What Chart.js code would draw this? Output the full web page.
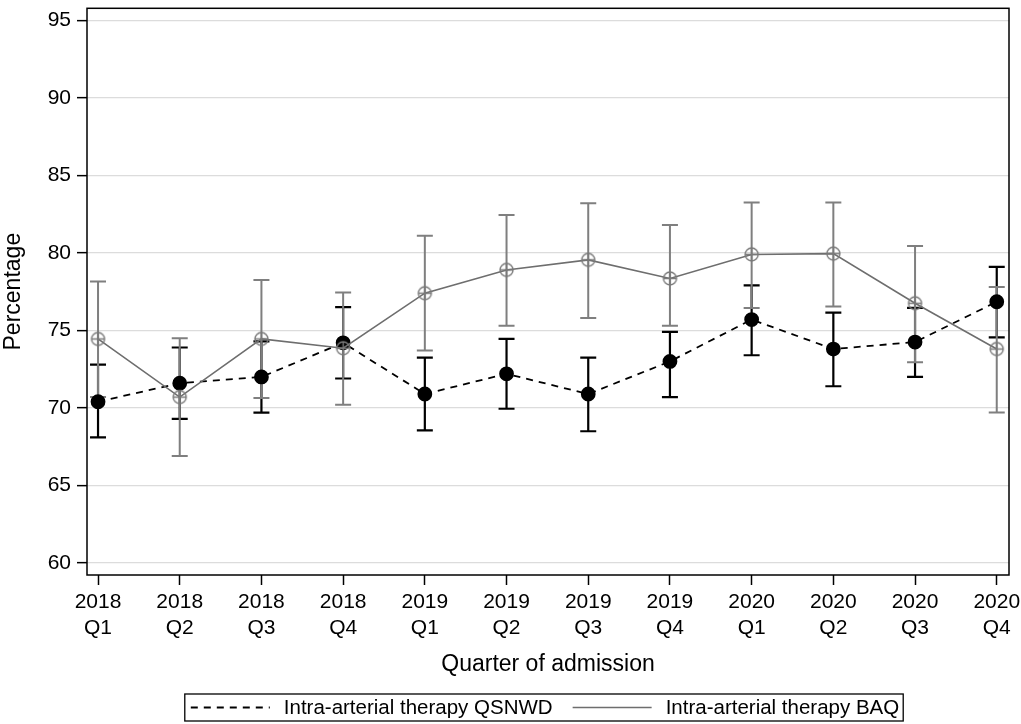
<!DOCTYPE html>
<html>
<head>
<meta charset="utf-8">
<script src="https://cdn.jsdelivr.net/npm/chart.js@4.4.1/dist/chart.umd.min.js"></script>
<style>
  html, body { margin: 0; padding: 0; background: #fff; }
</style>
</head>
<body>
<canvas id="chart" width="1021" height="724"></canvas>
<script>
// categories
const years = ['2018', '2018', '2018', '2018', '2019', '2019', '2019', '2019', '2020', '2020', '2020', '2020'];
const quarters = ['Q1', 'Q2', 'Q3', 'Q4', 'Q1', 'Q2', 'Q3', 'Q4', 'Q1', 'Q2', 'Q3', 'Q4'];

// Intra-arterial therapy QSNWD (dashed, filled dots)
const qsnwd = [70.4, 71.6, 72.0, 74.2, 70.9, 72.2, 70.9, 73.0, 75.7, 73.8, 74.25, 76.85];
const qsnwdLow = [68.1, 69.3, 69.7, 71.9, 68.55, 69.95, 68.5, 70.7, 73.4, 71.4, 72.0, 74.55];
const qsnwdHigh = [72.8, 73.9, 74.3, 76.5, 73.25, 74.45, 73.25, 74.9, 77.9, 76.15, 76.45, 79.1];

// Intra-arterial therapy BAQ (solid, open circles)
const baq = [74.45, 70.7, 74.45, 73.85, 77.4, 78.9, 79.55, 78.35, 79.9, 79.95, 76.75, 73.8];
const baqLow = [70.7, 66.9, 70.65, 70.2, 73.7, 75.3, 75.8, 75.3, 76.45, 76.55, 72.95, 69.7];
const baqHigh = [78.15, 74.5, 78.25, 77.45, 81.1, 82.45, 83.2, 81.8, 83.25, 83.25, 80.45, 77.8];

const yTicks = [60, 65, 70, 75, 80, 85, 90, 95];

const FONT = "'Liberation Sans', Arial, sans-serif";
Chart.defaults.font.family = FONT;
Chart.defaults.color = '#000';

// open circle with a plus, like the Stata "Oh" marker with crosshair
function crossCircle(r, color) {
    const c = document.createElement('canvas');
    const s = Math.ceil(r * 2 + 4);
    c.width = s;
    c.height = s;
    const g = c.getContext('2d');
    g.strokeStyle = color;
    g.lineWidth = 1.4;
    g.beginPath();
    g.arc(s / 2, s / 2, r, 0, Math.PI * 2);
    g.stroke();
    g.beginPath();
    g.moveTo(s / 2 - r, s / 2); g.lineTo(s / 2 + r, s / 2);
    g.moveTo(s / 2, s / 2 - r); g.lineTo(s / 2, s / 2 + r);
    g.stroke();
    return c;
}

// error bars with caps, drawn under the markers
const errorBars = {
    id: 'errorBars',
    beforeDatasetsDraw(chart) {
        const { ctx, scales: { x, y } } = chart;
        const sets = chart.data.datasets.slice().sort((a, b) => b.order - a.order);
        sets.forEach(ds => {
            ctx.save();
            ctx.strokeStyle = ds.errColor;
            ctx.lineWidth = ds.errWidth;
            ds.errLow.forEach((lo, i) => {
                const px = x.getPixelForValue(i);
                const y1 = y.getPixelForValue(lo);
                const y2 = y.getPixelForValue(ds.errHigh[i]);
                ctx.beginPath();
                ctx.moveTo(px, y1); ctx.lineTo(px, y2);
                ctx.moveTo(px - 8, y1); ctx.lineTo(px + 8, y1);
                ctx.moveTo(px - 8, y2); ctx.lineTo(px + 8, y2);
                ctx.stroke();
            });
            ctx.restore();
        });
    }
};

// black frame round the plot region
const frame = {
    id: 'frame',
    afterDraw(chart) {
        const { ctx, chartArea: a } = chart;
        ctx.save();
        ctx.strokeStyle = '#000';
        ctx.lineWidth = 1.5;
        ctx.strokeRect(a.left, a.top, a.right - a.left, a.bottom - a.top);
        ctx.restore();
    }
};

// boxed legend at the bottom (Stata style)
const boxLegend = {
    id: 'boxLegend',
    afterDraw(chart) {
        const { ctx, chartArea: a } = chart;
        const sets = chart.data.datasets;
        ctx.save();
        ctx.font = '20.5px ' + FONT;
        const lineLen = 79, padL = 6, gapText = 14, gapItem = 20, padR = 4;
        const widths = sets.map(ds => ctx.measureText(ds.label).width);
        let total = padL + padR + gapItem * (sets.length - 1);
        widths.forEach(w => { total += lineLen + gapText + w; });
        const left = (a.left + a.right) / 2 - total / 2 - 4;
        const top = 694, h = 27, cy = top + h / 2;
        ctx.strokeStyle = '#000';
        ctx.lineWidth = 1.3;
        ctx.strokeRect(left, top, total, h);
        let cx = left + padL;
        sets.forEach((ds, i) => {
            ctx.beginPath();
            ctx.strokeStyle = ds.borderColor;
            ctx.lineWidth = ds.borderWidth;
            ctx.setLineDash(ds.borderDash || []);
            ctx.moveTo(cx, cy); ctx.lineTo(cx + lineLen, cy);
            ctx.stroke();
            ctx.setLineDash([]);
            cx += lineLen + gapText;
            ctx.fillStyle = '#000';
            ctx.textBaseline = 'middle';
            ctx.fillText(ds.label, cx, cy + 1);
            cx += widths[i] + gapItem;
        });
        ctx.restore();
    }
};

const toPts = arr => arr.map((v, i) => ({ x: i, y: v }));

new Chart(document.getElementById('chart'), {
    type: 'line',
    data: {
        datasets: [
            {
                label: 'Intra-arterial therapy QSNWD',
                data: toPts(qsnwd),
                errLow: qsnwdLow,
                errHigh: qsnwdHigh,
                errColor: '#000',
                errWidth: 2.2,
                borderColor: '#000',
                borderWidth: 1.8,
                borderDash: [7, 6],
                pointRadius: 6.5,
                pointBackgroundColor: '#000',
                pointBorderColor: '#000',
                order: 2,
            },
            {
                label: 'Intra-arterial therapy BAQ',
                data: toPts(baq),
                errLow: baqLow,
                errHigh: baqHigh,
                errColor: '#7f7f7f',
                errWidth: 2,
                borderColor: '#6e6e6e',
                borderWidth: 1.6,
                pointStyle: crossCircle(6.5, '#7a7a7a'),
                order: 1,
            },
        ],
    },
    options: {
        responsive: false,
        animation: false,
        layout: { padding: { top: 3, right: 12, left: 0, bottom: 0 } },
        plugins: {
            legend: { display: false },
            tooltip: { enabled: false },
        },
        scales: {
            x: {
                type: 'linear',
                min: -0.135,
                max: 11.15,
                afterBuildTicks: axis => { axis.ticks = years.map((_, i) => ({ value: i })); },
                afterFit: scale => {
                    scale.height = 149;
                    scale.paddingLeft = 0;
                    scale.paddingRight = 0;
                },
                ticks: {
                    autoSkip: false,
                    maxRotation: 0,
                    padding: 5,
                    font: { size: 21, lineHeight: 1.2 },
                    callback: v => [years[v], quarters[v]],
                },
                grid: { drawOnChartArea: false, tickLength: 10, tickColor: '#000', tickWidth: 1.5 },
                border: { display: false },
                title: {
                    display: true,
                    text: 'Quarter of admission',
                    font: { size: 23, lineHeight: 1.2 },
                    padding: { top: 0, bottom: 46 },
                },
            },
            y: {
                min: 59.23,
                max: 95.77,
                afterBuildTicks: axis => { axis.ticks = yTicks.map(v => ({ value: v })); },
                afterFit: scale => {
                    scale.width = 87;
                    scale.paddingTop = 0;
                    scale.paddingBottom = 0;
                },
                ticks: { padding: 6, font: { size: 21 } },
                grid: { color: '#dcdcdc', lineWidth: 1.3, tickLength: 10, tickColor: '#000', tickWidth: 1.5 },
                border: { display: false },
                title: {
                    display: true,
                    text: 'Percentage',
                    font: { size: 23, lineHeight: 1.2 },
                    padding: { top: 0, bottom: 0 },
                },
            },
        },
    },
    plugins: [errorBars, frame, boxLegend],
});
</script>
</body>
</html>
